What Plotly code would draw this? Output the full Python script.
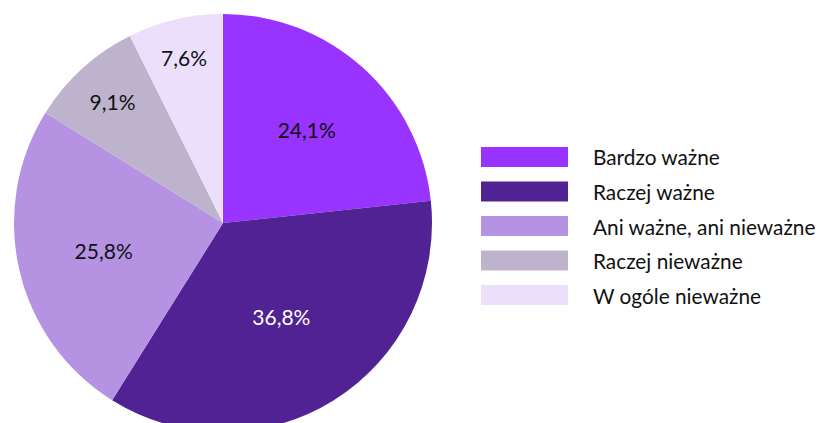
import plotly.graph_objects as go

# Survey answers and their shares (%)
categories = ["Bardzo ważne", "Raczej ważne", "Ani ważne, ani nieważne",
              "Raczej nieważne", "W ogóle nieważne"]
shares = [24.1, 36.8, 25.8, 9.1, 7.6]
colors = ["#9933FF", "#512293", "#B593E2", "#BDB3CC", "#EBDFFB"]
text_colors = ["#111111", "#FFFFFF", "#111111", "#111111", "#111111"]

FONT = "Lato"
W, H = 821, 440

labels_txt = [f"{v:.1f}%".replace(".", ",") for v in shares]

fig = go.Figure(go.Pie(
    labels=categories,
    values=shares,
    text=labels_txt,
    textinfo="text",
    textposition="inside",
    insidetextorientation="horizontal",
    textfont=dict(family=FONT, size=21, color=text_colors),
    marker=dict(colors=colors, line=dict(width=0)),
    sort=False,
    direction="clockwise",
    rotation=0,
    showlegend=False,
    hoverinfo="label+text",
    domain=dict(x=[0, 446 / W], y=[0, 1]),
))

# Custom legend: wide colour swatches with labels to their right
shapes, annotations = [], []
top0, step, sw_h = 147, 34.5, 20
for i, (cat, col) in enumerate(zip(categories, colors)):
    y0 = top0 + i * step
    shapes.append(dict(
        type="rect", xref="paper", yref="paper",
        x0=481 / W, x1=568 / W,
        y0=1 - (y0 + sw_h - 14) / (H - 22), y1=1 - (y0 - 14) / (H - 22),
        fillcolor=col, line=dict(width=0), layer="above",
    ))
    annotations.append(dict(
        xref="paper", yref="paper",
        x=591 / W, y=1 - (y0 + sw_h / 2 - 14) / (H - 22),
        xanchor="left", yanchor="middle",
        text=cat, showarrow=False,
        font=dict(family=FONT, size=20.8, color="#111111"),
    ))

fig.update_layout(
    width=W, height=H,
    margin=dict(l=0, r=0, t=14, b=8),
    paper_bgcolor="white", plot_bgcolor="white",
    shapes=shapes, annotations=annotations,
)

fig.write_html(
    "out.html",
    post_script="document.documentElement.style.overflow='hidden';document.body.style.overflow='hidden';document.body.style.margin='0';",
)
